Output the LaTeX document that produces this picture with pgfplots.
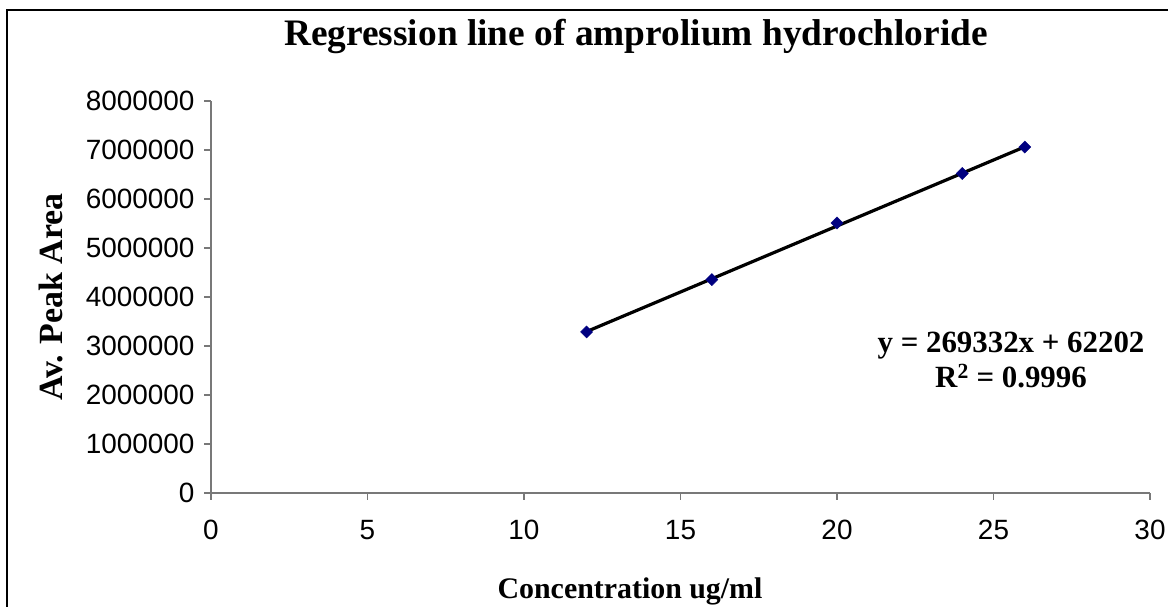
\documentclass[border=0pt]{standalone}
\usepackage{pgfplots}
\pgfplotsset{compat=1.18}
\usepackage{fontspec}
\setmainfont{Liberation Serif}
\newfontfamily\arial{Liberation Sans}
\definecolor{navy}{RGB}{0,0,128}
\definecolor{axgray}{RGB}{120,120,120}
\begin{document}
\begin{tikzpicture}[x=1bp,y=1bp]
\begin{axis}[
  at={(211bp,114bp)}, anchor=south west,
  scale only axis, width=939bp, height=392bp,
  xmin=0, xmax=30, ymin=0, ymax=8000000,
  xtick={0,5,...,30}, ytick={0,1000000,...,8000000},
  axis lines*=left,
  axis line style={axgray, line width=1.3bp, -},
  tick style={axgray, line width=1.3bp},
  tick align=outside, major tick length=7bp,
  scaled y ticks=false,
  /pgf/number format/assume math mode=true,
  /pgf/number format/fixed,
  /pgf/number format/1000 sep={},
  ticklabel style={font=\arial\fontsize{28}{32}\selectfont, black},
  xticklabel style={yshift=-17bp},
  yticklabel style={xshift=-6bp},
  clip=false,
]
\addplot[only marks, mark=square*, mark size=4.3bp, color=navy, mark options={fill=navy, rotate=45}]
  coordinates {(12,3286000) (16,4355000) (20,5510000) (24,6520000) (26,7060000)};
\addplot[black, line width=3.2bp, mark=none]
  coordinates {(12,3294186) (26,7064834)};
\end{axis}
\draw[black, line width=1.6bp] (7bp,-20bp) -- (7bp,597bp) -- (1190bp,597bp);
\node[font=\bfseries\fontsize{37.5}{40}\selectfont] at (636bp,571bp) {Regression line of amprolium hydrochloride};
\node[font=\bfseries\fontsize{34}{38}\selectfont, rotate=90] at (51bp,310bp) {Av. Peak Area};
\node[font=\bfseries\fontsize{30}{33}\selectfont] at (630bp,16bp) {Concentration ug/ml};
\node[font=\bfseries\fontsize{31}{36}\selectfont, align=center] at (1011bp,247bp) {y = 269332x + 62202\\R\textsuperscript{2} = 0.9996};
\pgfresetboundingbox
\useasboundingbox (0,0) rectangle (1168bp,607bp);
\end{tikzpicture}
\end{document}
